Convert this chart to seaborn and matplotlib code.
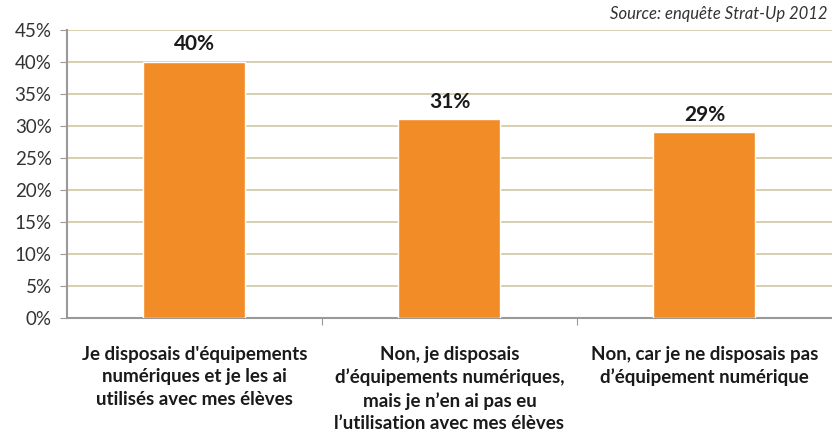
import seaborn as sns
import matplotlib.pyplot as plt
import pandas as pd
from matplotlib.ticker import PercentFormatter

# données
categories = [
    "Je disposais d'équipements\nnumériques et je les ai\nutilisés avec mes élèves",
    "Non, je disposais\nd’équipements numériques,\nmais je n’en ai pas eu\nl’utilisation avec mes élèves",
    "Non, car je ne disposais pas\nd’équipement numérique",
]
values = [40, 31, 29]
value_labels = ["40%", "31%", "29%"]
source = "Source: enquête Strat-Up 2012"

df = pd.DataFrame({"cat": categories, "val": values})

sns.set_style("white")
plt.rcParams['font.family'] = ['Lato', 'DejaVu Sans']

fig = plt.figure(figsize=(8.32, 4.33), dpi=100)
ax = fig.add_axes([0.0805, 0.266, 0.9195, 0.665])

sns.barplot(data=df, x="cat", y="val", color="#f28c26", width=0.4, saturation=1, ax=ax, zorder=3)

ax.set_ylim(0, 45)
ax.set_xlim(-0.5, 2.5)
ax.set_yticks(range(0, 46, 5))
ax.yaxis.set_major_formatter(PercentFormatter(decimals=0))
ax.grid(axis="y", color="#d3cdaa", linewidth=1.3, zorder=0)
ax.set_xlabel("")
ax.set_ylabel("")

# ticks entre les catégories
ax.set_xticks([0.5, 1.5], minor=False)
ax.set_xticklabels([])
ax.tick_params(axis="x", which="major", direction="out", length=5, color="#999999", bottom=True)
ax.tick_params(axis="y", direction="out", length=5, color="#999999", left=True, labelsize=13.5, labelcolor="#333333", pad=6)
for i, c in enumerate(categories):
    ax.text(i, -4.4, c, ha="center", va="top", fontsize=13.5, fontweight="bold", color="#1a1a1a", linespacing=1.38)

for s in ["top", "right"]:
    ax.spines[s].set_visible(False)
for s in ["left", "bottom"]:
    ax.spines[s].set_color("#999999")
    ax.spines[s].set_linewidth(1.5)

# étiquettes des valeurs
for i, (v, lab) in enumerate(zip(values, value_labels)):
    ax.text(i, v + 1.2, lab, ha="center", va="bottom", fontsize=15, fontweight="bold", color="#1a1a1a")

fig.text(0.995, 0.985, source, ha="right", va="top", fontsize=12, style="italic", color="#333333")

fig.savefig("out.png", dpi=100)
